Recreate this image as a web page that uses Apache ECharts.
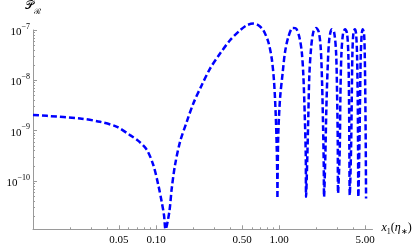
<!DOCTYPE html>
<html><head><meta charset="utf-8">
<script src="https://cdn.jsdelivr.net/npm/echarts@6/dist/echarts.min.js"></script>
<style>html,body{margin:0;padding:0;background:#fff}#c{width:415px;height:247px}</style>
</head><body><div id="c"></div>
<script>
// x1(eta*) values
const xValues = [
  0.0100, 0.0130, 0.0241, 0.0351, 0.0482, 0.0615, 0.0714, 0.0840, 0.0951, 0.1044, 0.1112, 0.1161, 0.1195,
  0.1283, 0.1342, 0.1427, 0.1567, 0.1777, 0.201, 0.2352, 0.2748, 0.3314, 0.3997, 0.482, 0.546, 0.618, 0.679, 0.745, 0.818, 0.872, 0.911, 0.940, 0.958, 0.9687, 0.970,
  0.976, 0.987, 1.019, 1.072, 1.119, 1.190, 1.292, 1.375, 1.462, 1.530, 1.576, 1.618, 1.649, 1.658,
  1.699, 1.730, 1.763, 1.820, 1.900, 2.000, 2.103, 2.183, 2.237, 2.279, 2.309, 2.322,
  2.379, 2.424, 2.489, 2.564, 2.683, 2.801, 2.907, 2.962, 3.001, 3.018,
  3.116, 3.151, 3.210, 3.313, 3.440, 3.572, 3.659, 3.708, 3.729, 3.757,
  3.850, 3.901, 3.944, 4.018, 4.125, 4.227, 4.307, 4.364, 4.389, 4.413,
  4.496, 4.555, 4.615, 4.702, 4.791, 4.910, 4.975, 5.031, 5.069, 5.097
];
// P_R values
const yValues = [
  2.06e-9, 1.97e-9, 1.75e-9, 1.50e-9, 1.19e-9, 8.15e-10, 6.34e-10, 4.2e-10, 2.07e-10, 8.3e-11, 3.87e-11, 2.10e-11, 1.1e-11,
  2.45e-11, 7.13e-11, 2.07e-10, 6.0e-10, 1.50e-9, 3.47e-9, 8.0e-9, 1.71e-8, 3.40e-8, 6.25e-8, 9.86e-8, 1.24e-7, 1.34e-7, 1.24e-7, 9.86e-8, 5.78e-8, 2.71e-8, 9.29e-9, 2.03e-9, 4.43e-10, 9.6e-11, 4.52e-11,
  2.07e-10, 9.46e-10, 4.36e-9, 1.47e-8, 3.66e-8, 7.26e-8, 1.10e-7, 1.07e-7, 7.26e-8, 3.66e-8, 1.26e-8, 2.03e-9, 3.27e-10, 4.86e-11,
  3.27e-10, 2.03e-9, 1.26e-8, 4.28e-8, 9.13e-8, 1.10e-7, 9.13e-8, 4.28e-8, 9.29e-9, 1.29e-9, 2.07e-10, 4.86e-11,
  3.27e-10, 2.75e-9, 2.0e-8, 6.75e-8, 1.03e-7, 9.13e-8, 3.66e-8, 5.89e-9, 6.0e-10, 5.75e-11,
  4.43e-10, 4.36e-9, 3.15e-8, 8.49e-8, 1.03e-7, 8.49e-8, 3.15e-8, 3.73e-9, 4.43e-10, 5.25e-11,
  4.43e-10, 4.36e-9, 3.15e-8, 8.49e-8, 1.03e-7, 8.49e-8, 3.15e-8, 3.73e-9, 4.43e-10, 4.86e-11,
  4.43e-10, 4.36e-9, 3.15e-8, 8.49e-8, 1.03e-7, 8.49e-8, 3.15e-8, 3.73e-9, 4.43e-10, 4.52e-11
];
const xTickLabels = [0.05, 0.1, 0.5, 1, 5];
const xMajorTicks = [0.01, 0.05, 0.1, 0.5, 1, 5];
const xMinorTicks = [0.02, 0.03, 0.04, 0.06, 0.07, 0.08, 0.09, 0.2, 0.3, 0.4, 0.6, 0.7, 0.8, 0.9, 2, 3, 4];
const yTickLabels = [1e-10, 1e-9, 1e-8, 1e-7];
const yMinorTicks = [2e-11, 3e-11, 4e-11, 5e-11, 6e-11, 7e-11, 8e-11, 9e-11,
  2e-10, 3e-10, 4e-10, 5e-10, 6e-10, 7e-10, 8e-10, 9e-10,
  2e-9, 3e-9, 4e-9, 5e-9, 6e-9, 7e-9, 8e-9, 9e-9,
  2e-8, 3e-8, 4e-8, 5e-8, 6e-8, 7e-8, 8e-8, 9e-8];

const X_MIN = 0.01, X_MAX = 5.75, Y_MIN = 1.1e-11, Y_MAX = 1e-7;
const AX = '#9a9a9a';
const SERIF = 'Liberation Serif';

const chart = echarts.init(document.getElementById('c'), null, {renderer: 'canvas'});
const baseX = {type: 'log', min: X_MIN, max: X_MAX, position: 'bottom', splitLine: {show: false}};
const baseY = {type: 'log', min: Y_MIN, max: Y_MAX, position: 'left', splitLine: {show: false}};
chart.setOption({
  animation: false,
  grid: {left: 33, right: 42.5, top: 29.7, bottom: 17.7},
  xAxis: [
    Object.assign({}, baseX, {
      axisLine: {show: true, onZero: false, lineStyle: {color: AX, width: 1}},
      axisTick: {show: true, inside: true, length: 4, lineStyle: {color: AX}, customValues: xMajorTicks},
      axisLabel: {show: true, margin: 5, customValues: xTickLabels, color: '#000', fontFamily: SERIF, fontSize: 11,
        formatter: v => Number(v).toFixed(2)},
      name: '{i|x}{s|1}{n|(}{i|η}{s|∗}{n|)}',
      nameLocation: 'end', nameGap: 9,
      nameTextStyle: {rich: {
        i: {fontFamily: SERIF, fontStyle: 'italic', fontSize: 12, color: '#000', verticalAlign: 'top', lineHeight: 14},
        n: {fontFamily: SERIF, fontSize: 12, color: '#000', verticalAlign: 'top', lineHeight: 14},
        s: {fontFamily: SERIF, fontSize: 8, color: '#000', verticalAlign: 'bottom', lineHeight: 8}
      }}
    }),
    Object.assign({}, baseX, {
      axisLine: {show: false, onZero: false},
      axisTick: {show: true, inside: true, length: 2, lineStyle: {color: AX}, customValues: xMinorTicks},
      axisLabel: {show: false}
    })
  ],
  yAxis: [
    Object.assign({}, baseY, {
      axisLine: {show: true, onZero: false, lineStyle: {color: AX, width: 1}},
      axisTick: {show: true, inside: true, length: 4, lineStyle: {color: AX}, customValues: yTickLabels},
      axisLabel: {show: true, margin: 3, customValues: yTickLabels,
        formatter: v => '{b|10}{s|−' + Math.round(-Math.log10(v)) + '}',
        rich: {
          b: {fontFamily: SERIF, fontSize: 11, color: '#000', verticalAlign: 'bottom', lineHeight: 15},
          s: {fontFamily: SERIF, fontSize: 8, color: '#000', verticalAlign: 'top', lineHeight: 9}
        }},
      name: '{p|𝒫}{r|ℛ}',
      nameLocation: 'end', nameGap: 14,
      nameTextStyle: {rich: {
        p: {fontFamily: SERIF, fontSize: 12, color: '#000', verticalAlign: 'top', lineHeight: 16},
        r: {fontFamily: SERIF, fontSize: 8, color: '#000', verticalAlign: 'bottom', lineHeight: 8}
      }}
    }),
    Object.assign({}, baseY, {
      axisLine: {show: false, onZero: false},
      axisTick: {show: true, inside: true, length: 2, lineStyle: {color: AX}, customValues: yMinorTicks},
      axisLabel: {show: false}
    })
  ],
  series: [{
    type: 'line',
    xAxisIndex: 0, yAxisIndex: 0,
    data: xValues.map((x, i) => [x, yValues[i]]),
    showSymbol: false,
    clip: false,
    smooth: 0.3,
    lineStyle: {color: '#0000ff', width: 2.5, type: [6, 3]}
  }]
});
</script>
</body></html>
